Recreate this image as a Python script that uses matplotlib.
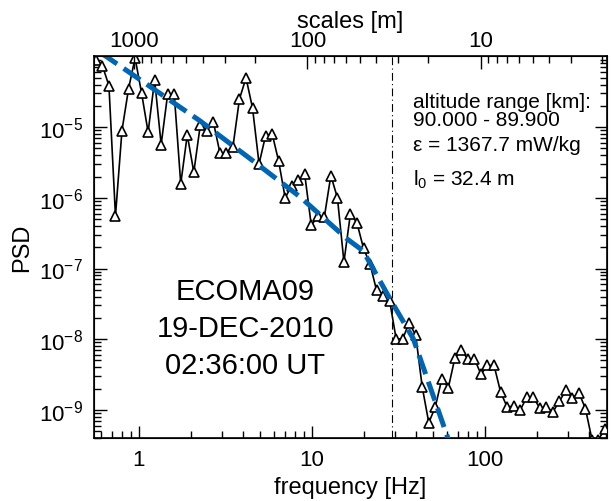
import matplotlib
matplotlib.use("Agg")
import matplotlib.pyplot as plt
from matplotlib.ticker import NullFormatter

plt.rcParams['font.family'] = ['Liberation Sans', 'DejaVu Sans']
plt.rcParams['mathtext.fontset'] = 'custom'
plt.rcParams['mathtext.rm'] = 'Liberation Sans'
plt.rcParams['mathtext.it'] = 'Liberation Sans:italic'

# measured spectrum (frequency [Hz], PSD)
freq = [0.564, 0.615, 0.671, 0.732, 0.798, 0.871, 0.950, 1.036, 1.130, 1.232,
        1.344, 1.466, 1.599, 1.744, 1.902, 2.075, 2.263, 2.468, 2.692, 2.936,
        3.202, 3.493, 3.809, 4.155, 4.531, 4.942, 5.390, 5.879, 6.412, 6.993,
        7.627, 8.319, 9.073, 9.897, 10.79, 11.77, 12.84, 14.01, 15.28, 16.66,
        18.17, 19.82, 21.62, 23.58, 25.72, 28.05, 30.59, 33.37, 36.39, 39.69,
        43.29, 47.22, 51.50, 56.17, 61.26, 66.82, 72.88, 79.49, 86.70, 94.56,
        103.1, 112.5, 122.7, 133.8, 146.0, 159.2, 173.7, 189.4, 206.5, 225.3,
        245.7, 268.0, 292.3, 318.8, 347.7, 379.3, 413.7, 451.2, 492.0, 536.7]
psd = [8.95e-5, 7.43e-5, 3.87e-5, 5.56e-7, 8.95e-6, 3.48e-5, 9.55e-5, 3.03e-5, 8.49e-6, 4.67e-5,
       5.68e-6, 2.96e-5, 2.96e-5, 1.58e-6, 7.78e-6, 2.31e-6, 1.08e-5, 8.87e-6, 1.18e-5, 4.33e-6,
       4.33e-6, 5.32e-6, 2.51e-5, 4.98e-5, 1.86e-5, 3.03e-6, 7.60e-6, 8.11e-6, 3.30e-6, 1.00e-6,
       1.49e-6, 1.76e-6, 2.14e-6, 4.08e-7, 5.45e-7, 5.33e-7, 2.07e-6, 1.00e-6, 1.24e-7, 6.00e-7,
       4.41e-7, 1.93e-7, 1.16e-7, 4.89e-8, 4.15e-8, 3.52e-8, 1.01e-8, 1.01e-8, 1.71e-8, 1.13e-8,
       2.10e-9, 6.58e-10, 1.10e-9, 2.75e-9, 2.06e-9, 5.41e-9, 6.92e-9, 5.24e-9, 5.24e-9, 3.19e-9,
       4.25e-9, 4.25e-9, 1.79e-9, 1.10e-9, 1.13e-9, 9.82e-10, 1.52e-9, 1.52e-9, 1.06e-9, 1.10e-9,
       9.31e-10, 1.32e-9, 1.88e-9, 1.47e-9, 1.75e-9, 1.04e-9, 3.8e-10, 3.8e-10, 5.41e-10, 6.85e-10]

# fitted model spectrum
fit_freq = [0.60, 0.653, 2.25, 4.81, 8.53, 15.9, 19.7, 28.2, 38.4, 50.1, 61.1, 66.0]
fit_psd = [1.13e-4, 9.86e-5, 1.23e-5, 3.02e-6, 1.03e-6, 2.63e-7, 1.78e-7, 3.72e-8,
           1.02e-8, 1.58e-9, 3.9e-10, 2.5e-10]

v_rocket = 940.0   # m/s, frequency -> scale
l0 = 32.4
xmin, xmax = 0.55, 505.0
ymin, ymax = 4e-10, 1e-4

fig = plt.figure(figsize=(6.11, 5.02), dpi=100)
ax = fig.add_axes([0.1538, 0.1255, 0.8396, 0.760])

ax.plot(freq, psd, color='black', lw=1.2, marker='^', ms=7.5,
        mfc='white', mec='black', mew=1.2, zorder=3)
ax.plot(fit_freq, fit_psd, color='#0066b3', lw=3.6, ls=(0, (4, 1.6)), zorder=4)
ax.axvline(v_rocket / l0, color='black', lw=0.8, ls=(0, (7, 3, 1, 3)), zorder=2)

ax.set_xscale('log')
ax.set_yscale('log')
ax.set_xlim(xmin, xmax)
ax.set_ylim(ymin, ymax)

ax.set_xticks([1, 10, 100], ['1', '10', '100'])
ax.xaxis.set_minor_formatter(NullFormatter())
yt = [1e-9, 1e-8, 1e-7, 1e-6, 1e-5]
ax.set_yticks(yt, [r'$\mathregular{10^{%d}}$' % e for e in range(-9, -4)])
ax.yaxis.set_minor_formatter(NullFormatter())

ax.tick_params(which='both', direction='in', top=False, right=True, labelsize=16, width=1)
ax.tick_params(which='major', length=9, pad=8)
ax.tick_params(which='minor', length=5)
for s in ax.spines.values():
    s.set_linewidth(1.2)

ax.set_xlabel('frequency [Hz]', fontsize=17, labelpad=4)
ax.set_ylabel('PSD', fontsize=17, labelpad=4)

ax2 = ax.twiny()
ax2.set_xscale('log')
ax2.set_xlim(v_rocket / xmin, v_rocket / xmax)
ax2.set_xticks([1000, 100, 10], ['1000', '100', '10'])
ax2.xaxis.set_minor_formatter(NullFormatter())
ax2.tick_params(which='both', direction='in', labelsize=16, width=1)
ax2.tick_params(which='major', length=9, pad=4)
ax2.tick_params(which='minor', length=5)
ax2.set_xlabel('scales [m]', fontsize=17, labelpad=2)

ax.text(0.295, 0.288, 'ECOMA09\n19-DEC-2010\n02:36:00 UT', transform=ax.transAxes,
        ha='center', va='center', fontsize=21, linespacing=1.4)

tx = 0.622
ax.text(tx, 0.881, 'altitude range [km]:', transform=ax.transAxes,
        ha='left', va='center', fontsize=15)
ax.text(tx, 0.836, '90.000 - 89.900', transform=ax.transAxes,
        ha='left', va='center', fontsize=15)
ax.text(tx, 0.768, 'ε = 1367.7 mW/kg', transform=ax.transAxes,
        ha='left', va='center', fontsize=15)
ax.text(tx, 0.679, r'l$_\mathregular{0}$ = 32.4 m', transform=ax.transAxes,
        ha='left', va='center', fontsize=15)

fig.savefig('out.png', dpi=100)
